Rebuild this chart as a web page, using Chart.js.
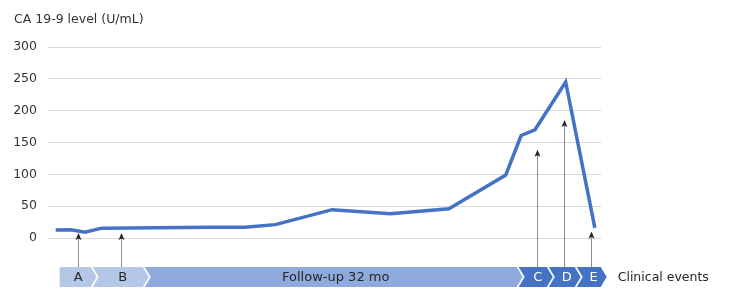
<!DOCTYPE html>
<html>
<head>
<meta charset="utf-8">
<script src="https://cdn.jsdelivr.net/npm/chart.js@4"></script>
<style>
  body { margin: 0; background: #fff; }
</style>
</head>
<body>
<canvas id="chart" width="738" height="302"></canvas>
<script>
// follow-up time (arbitrary month scale) and CA 19-9 readings
const months = [0.5, 1.5, 2.4, 3.5, 10.8, 12.8, 14.8, 18.5, 22.3, 26.1, 29.8, 30.8, 31.7, 33.7, 35.6];
const ca199 = [12.6, 13, 9, 15.5, 17, 17, 21, 44.5, 38, 46, 99, 161, 170, 245, 16];

// clinical events: where each arrow sits and how high it reaches
const eventMonths = [1.95, 4.78, 31.84, 33.57, 35.35];
const eventTips = [7.8, 7.8, 138.5, 185.5, 10.3];

// timeline phases under the chart
const phaseLabels = ['A', 'B', 'Follow-up 32 mo', 'C', 'D', 'E'];
const phaseStart = 0.76;
const phaseEnds = [3.17, 6.56, 30.9, 32.86, 34.68, 36.37];
const phaseColors = ['#b4c7e7', '#b4c7e7', '#8faadc', '#4472c4', '#4472c4', '#4472c4'];
const phaseTextColors = ['#262626', '#262626', '#262626', '#ffffff', '#ffffff', '#ffffff'];

const yTicks = [0, 50, 100, 150, 200, 250, 300];

const FONT = 'DejaVu Sans';

const timelinePlugin = {
    id: 'timeline',
    afterDraw(chart) {
        const ctx = chart.ctx;
        const xs = chart.scales.x;
        const ys = chart.scales.y;
        const top = chart.chartArea.bottom + 29;
        const h = 20;
        const mid = top + h / 2;
        const depth = 6;
        const gap = 2;

        // arrows first, band covers their feet
        eventMonths.forEach((m, i) => {
            const x = Math.round(xs.getPixelForValue(m)) + 0.5;
            const ty = ys.getPixelForValue(eventTips[i]);
            ctx.save();
            ctx.strokeStyle = '#8c8c8c';
            ctx.lineWidth = 1;
            ctx.beginPath();
            ctx.moveTo(x, top);
            ctx.lineTo(x, ty + 4);
            ctx.stroke();
            ctx.fillStyle = '#262626';
            ctx.beginPath();
            ctx.moveTo(x, ty);
            ctx.lineTo(x + 3, ty + 7);
            ctx.lineTo(x, ty + 5.5);
            ctx.lineTo(x - 3, ty + 7);
            ctx.closePath();
            ctx.fill();
            ctx.restore();
        });

        let prevTopRight = null;
        phaseEnds.forEach((end, i) => {
            const tip = xs.getPixelForValue(end);
            const tr = tip - depth;
            const left = i === 0 ? xs.getPixelForValue(phaseStart) : prevTopRight + gap;
            ctx.save();
            ctx.fillStyle = phaseColors[i];
            ctx.beginPath();
            ctx.moveTo(left, top);
            ctx.lineTo(tr, top);
            ctx.lineTo(tip, mid);
            ctx.lineTo(tr, top + h);
            ctx.lineTo(left, top + h);
            if (i > 0) ctx.lineTo(left + depth, mid);
            ctx.closePath();
            ctx.fill();

            ctx.fillStyle = phaseTextColors[i];
            ctx.font = '13px "' + FONT + '"';
            ctx.textAlign = 'center';
            ctx.textBaseline = 'middle';
            const cx = i === 0 ? (left + tip) / 2 : (left + depth + tip) / 2 - 1;
            ctx.fillText(phaseLabels[i], cx, mid + 1);
            ctx.restore();
            prevTopRight = tr;
        });

        ctx.save();
        ctx.fillStyle = '#262626';
        ctx.font = '12.5px "' + FONT + '"';
        ctx.textAlign = 'left';
        ctx.textBaseline = 'middle';
        ctx.fillText('Clinical events', xs.getPixelForValue(phaseEnds[phaseEnds.length - 1]) + 11, mid + 1);
        ctx.restore();
    }
};

new Chart(document.getElementById('chart'), {
    type: 'line',
    data: {
        datasets: [{
            data: months.map((m, i) => ({ x: m, y: ca199[i] })),
            borderColor: '#4472c4',
            borderWidth: 3.5,
            pointRadius: 0,
            tension: 0,
            fill: false
        }]
    },
    options: {
        responsive: false,
        animation: false,
        devicePixelRatio: 1,
        layout: { padding: { left: 14, right: 137, top: 0, bottom: 64 } },
        plugins: {
            legend: { display: false },
            tooltip: { enabled: false },
            title: {
                display: true,
                text: 'CA 19-9 level (U/mL)',
                align: 'start',
                color: '#333333',
                font: { family: FONT, size: 12.5, weight: 'normal' },
                padding: { top: 12, bottom: 20 }
            }
        },
        scales: {
            x: { type: 'linear', min: 0, max: 36, display: false },
            y: {
                min: 0,
                max: 300,
                afterBuildTicks: (axis) => { axis.ticks = yTicks.map(v => ({ value: v })); },
                afterFit: (axis) => { axis.width = 34; },
                border: { display: false },
                grid: { color: '#d9d9d9', drawTicks: false },
                ticks: {
                    padding: 11,
                    color: '#333333',
                    font: { family: FONT, size: 12.5 }
                }
            }
        }
    },
    plugins: [timelinePlugin]
});
</script>
</body>
</html>
